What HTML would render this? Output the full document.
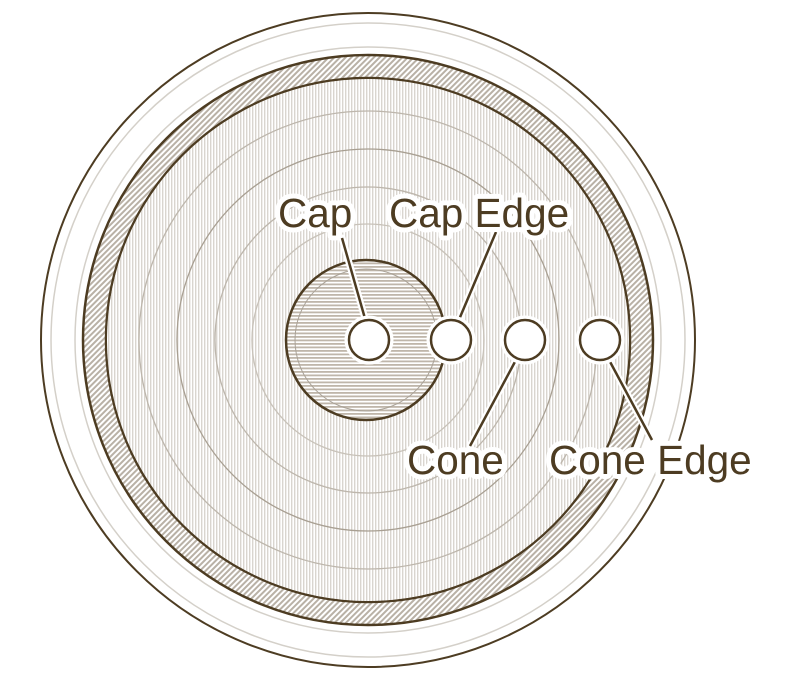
<!DOCTYPE html>
<html><head><meta charset="utf-8"><style>
html,body{margin:0;padding:0;background:#fff;}
svg{display:block;}
text{font-family:"Liberation Sans",sans-serif;font-size:40.5px;fill:#4d3c22;}
.halo{fill:#fff;stroke:#fff;stroke-width:10;stroke-linejoin:round;}
</style></head><body>
<svg width="800" height="699" viewBox="0 0 800 699" xmlns="http://www.w3.org/2000/svg">
<defs>
<pattern id="vs" width="3" height="10" patternUnits="userSpaceOnUse">
<rect width="3" height="10" fill="#fff"/><rect width="1.4" height="10" fill="#d9d5cf"/>
</pattern>
<pattern id="hs" width="10" height="3.5" patternUnits="userSpaceOnUse">
<rect width="10" height="3.5" fill="#fff"/><rect width="10" height="1.8" fill="#bfb6aa"/>
</pattern>
<pattern id="ds" width="4" height="4" patternUnits="userSpaceOnUse" patternTransform="rotate(45)">
<rect width="4" height="4" fill="#fff"/><rect width="2" height="4" fill="#b9b1a6"/>
</pattern>
</defs>
<g fill="none">
<circle cx="368" cy="340" r="327" stroke="#4d3c22" stroke-width="2"/>
<circle cx="368" cy="340" r="317" stroke="#d4d0c9" stroke-width="1.5"/>
<circle cx="368" cy="340" r="293" stroke="#d4d0c9" stroke-width="1.5"/>
<circle cx="368" cy="340" r="273.5" stroke="url(#ds)" stroke-width="23"/>
<circle cx="368" cy="340" r="285" stroke="#4d3c22" stroke-width="2.5"/>
<circle cx="368" cy="340" r="262" stroke="#4d3c22" stroke-width="2.5"/>
<circle cx="368" cy="340" r="261" fill="url(#vs)"/>
<circle cx="368" cy="340" r="229" stroke="#bdb6ac" stroke-width="1.3"/>
<circle cx="368" cy="340" r="191" stroke="#a89f92" stroke-width="1.3"/>
<circle cx="368" cy="340" r="153" stroke="#bdb6ac" stroke-width="1.3"/>
<circle cx="368" cy="340" r="116" stroke="#c8c2b9" stroke-width="1.3"/>
<circle cx="366" cy="340" r="80" fill="url(#hs)" stroke="#4d3c22" stroke-width="2.5"/>
<circle cx="366" cy="340" r="71" stroke="#aaa297" stroke-width="1"/>
</g>
<g stroke="#fff" stroke-width="7" stroke-linecap="round">
<line x1="342" y1="238" x2="366" y2="322"/>
<line x1="496" y1="232" x2="458" y2="322"/>
<line x1="470" y1="446" x2="517" y2="358"/>
<line x1="652" y1="440" x2="608" y2="358"/>
</g>
<g stroke="#4d3c22" stroke-width="2.5">
<line x1="342" y1="238" x2="366" y2="322"/>
<line x1="496" y1="232" x2="458" y2="322"/>
<line x1="470" y1="446" x2="517" y2="358"/>
<line x1="652" y1="440" x2="608" y2="358"/>
</g>
<g fill="#fff" stroke="#fff" stroke-width="9">
<circle cx="369" cy="340" r="20"/><circle cx="451" cy="340" r="20"/>
<circle cx="525" cy="340" r="20"/><circle cx="600" cy="340" r="20"/>
</g>
<g fill="#fff" stroke="#4d3c22" stroke-width="2.5">
<circle cx="369" cy="340" r="20"/><circle cx="451" cy="340" r="20"/>
<circle cx="525" cy="340" r="20"/><circle cx="600" cy="340" r="20"/>
</g>
<text class="halo" x="278" y="227">Cap</text><text x="278" y="227">Cap</text>
<text class="halo" x="389" y="227">Cap Edge</text><text x="389" y="227">Cap Edge</text>
<text class="halo" x="407" y="474">Cone</text><text x="407" y="474">Cone</text>
<text class="halo" x="549" y="474">Cone Edge</text><text x="549" y="474">Cone Edge</text>
</svg>
</body></html>
